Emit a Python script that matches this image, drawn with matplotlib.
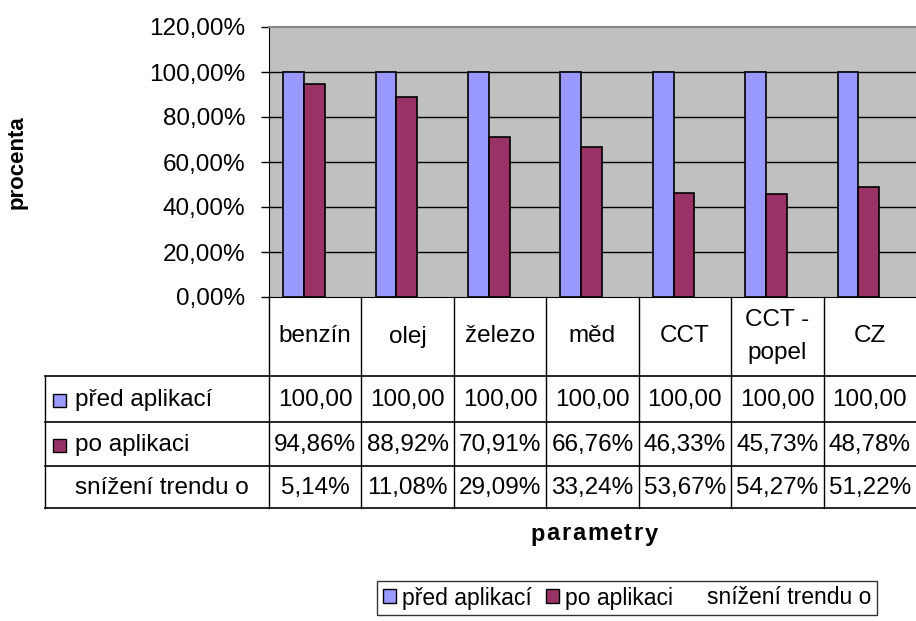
import matplotlib
matplotlib.use("Agg")
import matplotlib.pyplot as plt
from matplotlib.patches import Patch, Rectangle
import numpy as np

# ===============================
# DATA
# ===============================
categories = ["benzín", "olej", "železo", "měd", "CCT", "CCT -\npopel", "CZ"]
pred = [1.0, 1.0, 1.0, 1.0, 1.0, 1.0, 1.0]
po = [0.9486, 0.8892, 0.7091, 0.6676, 0.4633, 0.4573, 0.4878]
snizeni = [0.0514, 0.1108, 0.2909, 0.3324, 0.5367, 0.5427, 0.5122]
row_names = ["před aplikací", "po aplikaci", "snížení trendu o"]
yticks = [0.0, 0.2, 0.4, 0.6, 0.8, 1.0, 1.2]

c_pred = "#9999FF"
c_po = "#993366"
c_bg = "#C0C0C0"

plt.rcParams["font.family"] = ["Liberation Sans", "DejaVu Sans"]

W, H = 916, 621
fig = plt.figure(figsize=(W / 100, H / 100), dpi=100)

# plot area in pixels
px_l, px_r, px_t, px_b = 269, 916, 27, 297
ax = fig.add_axes([px_l / W, 1 - px_b / H, (px_r - px_l) / W, (px_b - px_t) / H])
ax.set_facecolor(c_bg)

x = np.arange(len(categories))
bw = 0.225
ax.bar(x - 0.235, pred, bw, color=c_pred, edgecolor="black", linewidth=1.2, zorder=3)
ax.bar(x - 0.01, po, bw, color=c_po, edgecolor="black", linewidth=1.2, zorder=3)

ax.set_xlim(-0.5, len(categories) - 0.5)
ax.set_ylim(0, 1.2)
ax.set_yticks(yticks)
ax.set_yticklabels([f"{v * 100:.2f}%".replace(".", ",") for v in yticks], fontsize=17.5)
ax.set_xticks([])
ax.tick_params(axis="y", direction="out", length=6, width=1, pad=11)
for v in yticks[1:-1]:
    ax.axhline(v, color="black", linewidth=1, zorder=1)
ax.spines["right"].set_visible(False)
ax.spines["top"].set_color("#888888")
ax.spines["top"].set_linewidth(1.5)
ax.spines["left"].set_color("black")
ax.spines["bottom"].set_color("black")

# ===============================
# DATA TABLE (pixel overlay)
# ===============================
tab = fig.add_axes([0, 0, 1, 1], facecolor="none")
tab.set_xlim(0, W)
tab.set_ylim(H, 0)
tab.axis("off")

colw = (px_r - px_l) / len(categories)
edges = [px_l + i * colw for i in range(len(categories) + 1)]
rows_y = [297, 376, 422, 466, 508]
tab_left = 45

lc = "black"
for e in edges[:-1]:
    tab.plot([e, e], [rows_y[0], rows_y[-1]], color=lc, lw=1)
tab.plot([tab_left, tab_left], [rows_y[1], rows_y[-1]], color=lc, lw=1)
for yy in rows_y[1:]:
    tab.plot([tab_left, W], [yy, yy], color=lc, lw=1.2)

fs = 17.5
for i, cat in enumerate(categories):
    cx = (edges[i] + edges[i + 1]) / 2
    tab.text(cx, (rows_y[0] + rows_y[1]) / 2, cat, ha="center", va="center",
             fontsize=fs, linespacing=1.6)
    vals = [f"{pred[i] * 100:.2f}".replace(".", ","),
            f"{po[i] * 100:.2f}%".replace(".", ","),
            f"{snizeni[i] * 100:.2f}%".replace(".", ",")]
    for r, v in enumerate(vals):
        tab.text(cx, (rows_y[r + 1] + rows_y[r + 2]) / 2 + 1, v, ha="center",
                 va="center", fontsize=fs)

for r, name in enumerate(row_names):
    cy = (rows_y[r + 1] + rows_y[r + 2]) / 2 + 1
    if r < 2:
        col = c_pred if r == 0 else c_po
        tab.add_patch(Rectangle((53, cy - 6), 13, 13, facecolor=col,
                                edgecolor="black", lw=1))
    tab.text(75, cy, name, ha="left", va="center", fontsize=fs)

# axis titles
fig.text(17 / W, 1 - 162 / H, "procenta", rotation=90, ha="center", va="center",
         fontsize=16, fontweight="bold")
# "parametry" is letter-spaced in the original
title = "parametry"
tw = fig.text(0, 0, title, fontsize=17, fontweight="bold")
fig.canvas.draw()
w_plain = tw.get_window_extent().width
tw.remove()
gap = 1.6
xpos = 594 - (w_plain + gap * (len(title) - 1)) / 2
for ch in title:
    t = fig.text(xpos / W, 1 - 534 / H, ch, ha="left", va="center",
                 fontsize=17, fontweight="bold")
    fig.canvas.draw()
    xpos += t.get_window_extent().width + gap

# legend
handles = [Patch(facecolor=c_pred, edgecolor="black"),
           Patch(facecolor=c_po, edgecolor="black"),
           Patch(facecolor="none", edgecolor="none")]
leg = fig.legend(handles, row_names, loc="center", ncol=3,
                 bbox_to_anchor=(627 / W, 1 - 598 / H), fontsize=16.5,
                 frameon=True, fancybox=False, edgecolor="black",
                 handlelength=0.55, handleheight=0.55, handletextpad=0.3,
                 columnspacing=0.6, borderpad=0.25)
leg.get_frame().set_linewidth(1)

fig.savefig("out.png", dpi=100)
